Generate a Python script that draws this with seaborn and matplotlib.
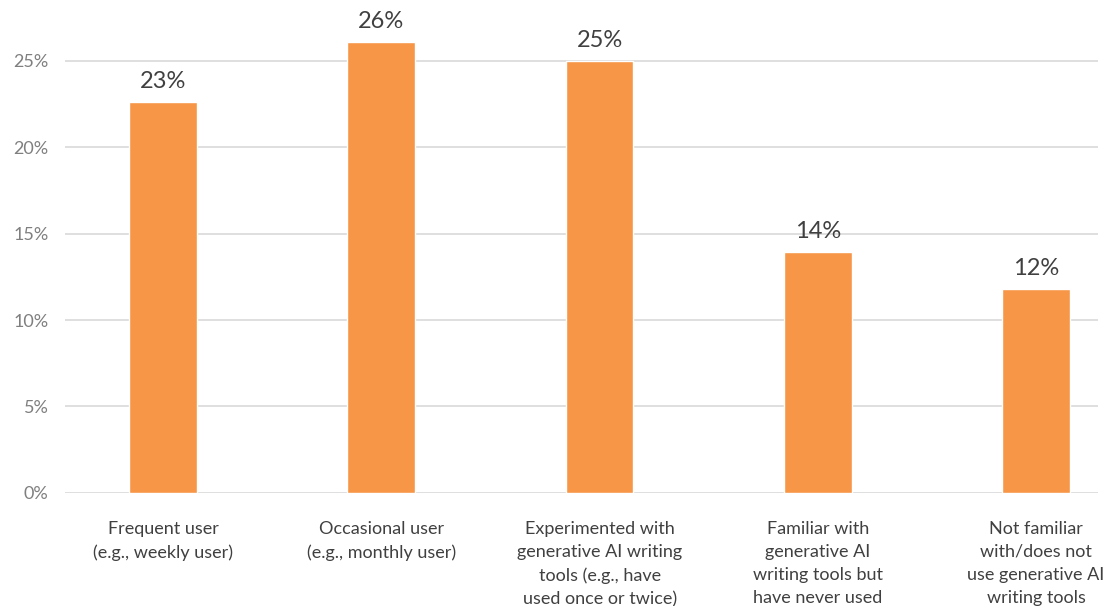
import matplotlib
matplotlib.use("Agg")
import matplotlib.pyplot as plt
import seaborn as sns
import pandas as pd
from matplotlib.ticker import FuncFormatter

categories = [
    "Frequent user\n(e.g., weekly user)",
    "Occasional user\n(e.g., monthly user)",
    "Experimented with\ngenerative AI writing\ntools (e.g., have\nused once or twice)",
    "Familiar with\ngenerative AI\nwriting tools but\nhave never used",
    "Not familiar\nwith/does not\nuse generative AI\nwriting tools",
]
values = [22.6, 26.1, 25.0, 13.95, 11.8]
value_labels = ["23%", "26%", "25%", "14%", "12%"]
y_ticks = [0, 5, 10, 15, 20, 25]

sns.set_theme(style="white")
plt.rcParams["font.family"] = ["Lato", "DejaVu Sans"]

df = pd.DataFrame({"category": categories, "value": values})

fig = plt.figure(figsize=(11.12, 6.06), dpi=100)
ax = fig.add_axes([0.0585, 0.1865, 0.929, 0.8135])

sns.barplot(data=df, x="category", y="value", color="#F79646", saturation=1,
            width=0.31, ax=ax, zorder=3)

ax.set_ylim(0, 28.5)
ax.set_xlim(-0.449, 4.284)
ax.set_yticks(y_ticks)
ax.yaxis.set_major_formatter(FuncFormatter(lambda v, p: f"{v:.0f}%"))
ax.grid(axis="y", color="#D9D9D9", linewidth=1.2, zorder=0)
ax.set_axisbelow(True)
for s in ax.spines.values():
    s.set_visible(False)
ax.set_xlabel("")
ax.set_ylabel("")
ax.tick_params(axis="y", length=0, pad=12, labelsize=13, labelcolor="#7F7F7F")
ax.tick_params(axis="x", length=0, pad=20, labelsize=13, labelcolor="#404040")
for lab in ax.get_xticklabels():
    lab.set_linespacing(1.55)
    lab.set_verticalalignment("top")

for patch, txt in zip(ax.patches, value_labels):
    ax.annotate(txt, (patch.get_x() + patch.get_width() / 2, patch.get_height()),
                xytext=(0, 7), textcoords="offset points", ha="center", va="bottom",
                fontsize=17, color="#404040")

fig.savefig("out.png", dpi=100)
